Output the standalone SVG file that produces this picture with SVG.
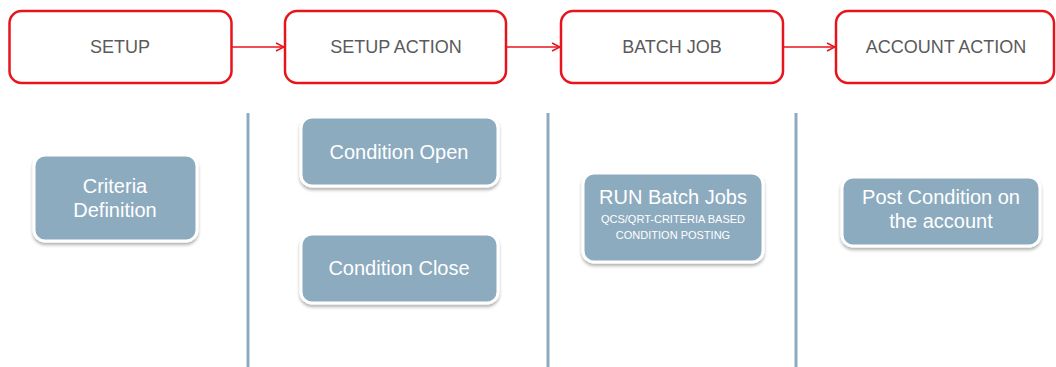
<svg xmlns="http://www.w3.org/2000/svg" width="1056" height="367" viewBox="0 0 1056 367">
<style>
.stage{fill:#ffffff;stroke:#e8141c;stroke-width:2.5}
.stxt{font-family:"Liberation Sans",Arial,sans-serif;font-size:18px;fill:#5a5a5a;text-anchor:middle;dominant-baseline:central}
.task{fill:#8dabbf;stroke:#ffffff;stroke-width:3}
.ttxt{font-family:"Liberation Sans",Arial,sans-serif;font-size:20px;fill:#ffffff;text-anchor:middle;dominant-baseline:central}
.small{font-family:"Liberation Sans",Arial,sans-serif;font-size:11px;fill:#ffffff;text-anchor:middle;dominant-baseline:central}
.conn{stroke:#e8141c;stroke-width:1.5;fill:none}
.sep{stroke:#8dabbf;stroke-width:3}
</style>
<defs>
<marker id="arr" viewBox="0 0 10 10" refX="9" refY="5" markerWidth="10" markerHeight="10" markerUnits="userSpaceOnUse" orient="auto">
<path d="M1,1 L9,5 L1,9" fill="none" stroke="#e8141c" stroke-width="1.5"/>
</marker>
<filter id="sh" x="-10%" y="-10%" width="120%" height="130%">
<feDropShadow dx="0" dy="2.5" stdDeviation="1.5" flood-color="#000000" flood-opacity="0.3"/>
</filter>
</defs>
<rect width="1056" height="367" fill="#ffffff"/>
<g id="separators">
<line class="sep" x1="248" y1="113" x2="248" y2="367"/>
<line class="sep" x1="548" y1="113" x2="548" y2="367"/>
<line class="sep" x1="796" y1="113" x2="796" y2="367"/>
</g>
<g id="connectors">
<line class="conn" x1="232" y1="47" x2="284" y2="47" marker-end="url(#arr)"/>
<line class="conn" x1="507" y1="47" x2="560" y2="47" marker-end="url(#arr)"/>
<line class="conn" x1="784" y1="47" x2="835" y2="47" marker-end="url(#arr)"/>
</g>
<g id="setup">
<rect class="stage" x="9.5" y="11" width="222" height="72" rx="12"/>
<text class="stxt" x="120" y="47">SETUP</text>
</g>
<g id="setup-action">
<rect class="stage" x="285" y="11" width="221" height="72" rx="12"/>
<text class="stxt" x="396" y="47">SETUP ACTION</text>
</g>
<g id="batch-job">
<rect class="stage" x="561" y="11" width="222" height="72" rx="12"/>
<text class="stxt" x="672" y="47">BATCH JOB</text>
</g>
<g id="account-action">
<rect class="stage" x="836" y="11" width="218" height="72" rx="12"/>
<text class="stxt" x="946" y="47">ACCOUNT ACTION</text>
</g>
<g id="criteria-definition">
<rect class="task" x="34" y="155" width="163" height="86" rx="11" filter="url(#sh)"/>
<text class="ttxt" x="115" y="186">Criteria</text>
<text class="ttxt" x="115" y="210">Definition</text>
</g>
<g id="condition-open">
<rect class="task" x="301" y="117" width="197" height="69" rx="11" filter="url(#sh)"/>
<text class="ttxt" x="399" y="152">Condition Open</text>
</g>
<g id="condition-close">
<rect class="task" x="301" y="234" width="197" height="69" rx="11" filter="url(#sh)"/>
<text class="ttxt" x="399" y="268">Condition Close</text>
</g>
<g id="run-batch-jobs">
<rect class="task" x="583" y="173" width="180" height="89" rx="11" filter="url(#sh)"/>
<text class="ttxt" x="673" y="197">RUN Batch Jobs</text>
<text class="small" x="673" y="219">QCS/QRT-CRITERIA BASED</text>
<text class="small" x="673" y="235">CONDITION POSTING</text>
</g>
<g id="post-condition">
<rect class="task" x="842" y="177" width="198" height="69" rx="11" filter="url(#sh)"/>
<text class="ttxt" x="941" y="197">Post Condition on</text>
<text class="ttxt" x="941" y="221">the account</text>
</g>
</svg>
